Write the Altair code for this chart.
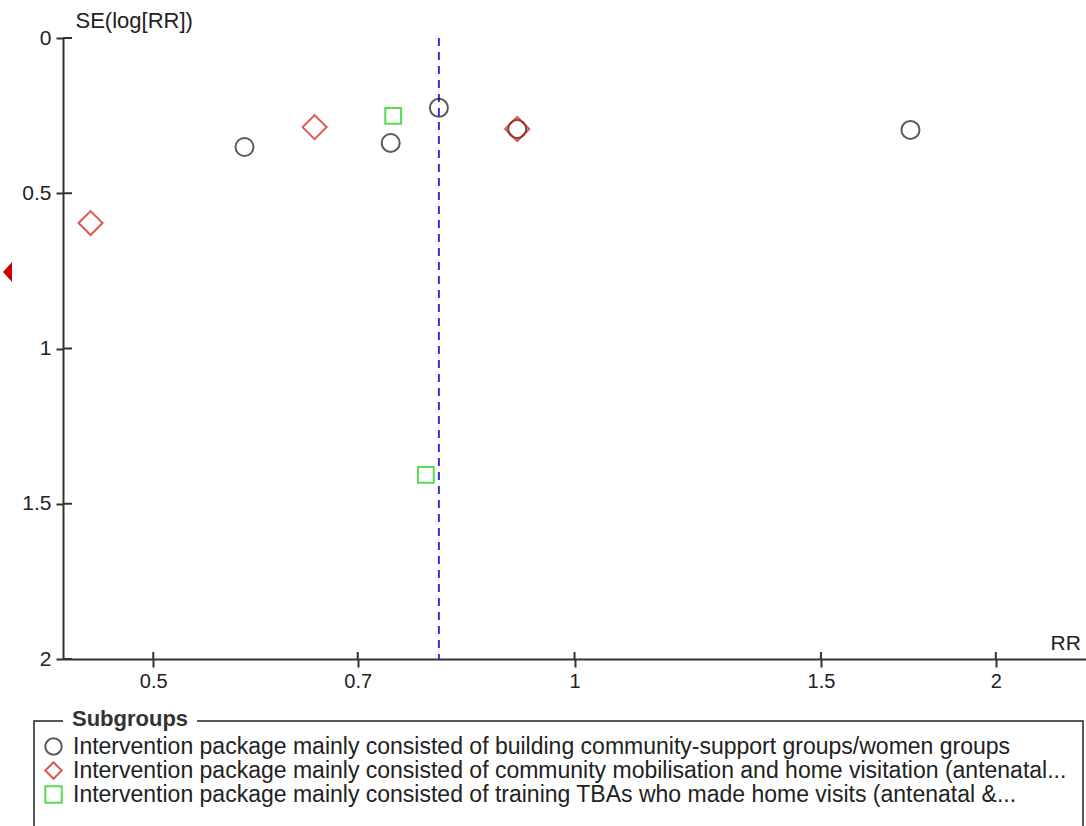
import altair as alt
import pandas as pd

groups = [
    "Intervention package mainly consisted of building community-support groups/women groups",
    "Intervention package mainly consisted of community mobilisation and home visitation (antenatal...",
    "Intervention package mainly consisted of training TBAs who made home visits (antenatal &...",
]
circle_rr = [0.581, 0.739, 0.800, 0.910, 1.738]
circle_se = [0.351, 0.338, 0.225, 0.293, 0.296]
diamond_rr = [0.451, 0.652, 0.910]
diamond_se = [0.596, 0.287, 0.293]
square_rr = [0.742, 0.783]
square_se = [0.251, 1.407]
pooled_rr = 0.80
marker_se = [0.754]
x_ticks = [0.5, 0.7, 1, 1.5, 2]
y_ticks = [0, 0.5, 1, 1.5, 2]

rows = []
for g, rrs, ses in [(groups[0], circle_rr, circle_se), (groups[1], diamond_rr, diamond_se), (groups[2], square_rr, square_se)]:
    for r, s in zip(rrs, ses):
        rows.append({"group": g, "rr": r, "se": s})
df = pd.DataFrame(rows)

FONT = "Liberation Sans"
TXT = "#222222"
xscale = alt.Scale(type="log", domain=[0.431, 2.32], nice=False)
yscale = alt.Scale(domain=[0, 2], reverse=True, nice=False)

xaxis = alt.Axis(values=x_ticks, format="~g", title="RR", titleX=987, titleY=-16,
                 titleAlign="left", titleBaseline="middle", titleFontWeight="normal",
                 titleFontSize=21, titleFont=FONT, titleColor=TXT, grid=False,
                 labelFontSize=20, labelFont=FONT, labelColor=TXT, labelPadding=4,
                 tickSize=8, tickWidth=2, tickColor="#333333", domainColor="#333333",
                 domainWidth=2)
yaxis = alt.Axis(values=y_ticks, format="~g", title="SE(log[RR])", titleX=12, titleY=-18,
                 titleAngle=0, titleAlign="left", titleBaseline="middle",
                 titleFontWeight="normal", titleFontSize=22, titleFont=FONT, titleColor=TXT,
                 grid=False, labelFontSize=21, labelFont=FONT, labelColor=TXT, labelPadding=5,
                 tickSize=7, tickWidth=2, tickColor="#333333", domainColor="#333333",
                 domainWidth=2)

color_enc = alt.Color("group:N", scale=alt.Scale(domain=groups, range=["#151515", "#cc1111", "#11cc11"]),
                      legend=alt.Legend(title=None, orient="none", legendX=-21, legendY=697,
                                        labelFontSize=23, labelFont=FONT, labelColor=TXT,
                                        labelLimit=1200, labelOffset=8, symbolStrokeWidth=2,
                                        symbolSize=270, rowPadding=-1))
shape_enc = alt.Shape("group:N", scale=alt.Scale(domain=groups, range=["circle", "diamond", "square"]))

base = alt.Chart(df).encode(
    x=alt.X("rr:Q", scale=xscale, axis=xaxis),
    y=alt.Y("se:Q", scale=yscale, axis=yaxis),
    color=color_enc,
    shape=shape_enc,
)
pts_c = base.transform_filter(alt.datum.group == groups[0]).mark_point(filled=False, strokeWidth=2, size=324)
pts_d = base.transform_filter(alt.datum.group == groups[1]).mark_point(filled=False, strokeWidth=2, size=576)
pts_s = base.transform_filter(alt.datum.group == groups[2]).mark_point(filled=False, strokeWidth=2, size=250)

dashed = alt.Chart(pd.DataFrame({"rr": [pooled_rr]})).mark_rule(
    color="#3333dd", strokeWidth=2, strokeDash=[8, 6]).encode(
    x=alt.X("rr:Q", scale=xscale), y=alt.value(0), y2=alt.value(621))

yt = alt.Chart(pd.DataFrame({"v": y_ticks})).mark_rule(color="#333333", strokeWidth=2).encode(
    y=alt.Y("v:Q", scale=yscale), x=alt.value(0), x2=alt.value(9))
xt = alt.Chart(pd.DataFrame({"v": x_ticks})).mark_rule(color="#333333", strokeWidth=2).encode(
    x=alt.X("v:Q", scale=xscale), y=alt.value(614), y2=alt.value(621))

tri = alt.Chart(pd.DataFrame({"se": marker_se})).mark_point(
    shape="M0.45,-1L-0.45,0L0.45,1Z", filled=True, color="#cc0000", opacity=1, size=400).encode(
    x=alt.value(-55.5), y=alt.Y("se:Q", scale=yscale))

box = alt.Chart(pd.DataFrame({"a": [1]})).mark_rect(
    fill="white", fillOpacity=0, stroke="#222222", strokeWidth=1.5).encode(
    x=alt.value(-29), x2=alt.value(1020), y=alt.value(683), y2=alt.value(900))
gap = alt.Chart(pd.DataFrame({"a": [1]})).mark_rect(fill="white").encode(
    x=alt.value(0), x2=alt.value(134), y=alt.value(679), y2=alt.value(687))
title = alt.Chart(pd.DataFrame({"t": ["Subgroups"]})).mark_text(
    align="left", baseline="middle", font=FONT, fontSize=22, fontWeight="bold", color="#333333").encode(
    x=alt.value(9), y=alt.value(681), text="t:N")

chart = alt.layer(box, gap, title, dashed, yt, xt, tri, pts_c, pts_d, pts_s).properties(
    width=1023, height=621,
    background="white",
    autosize=alt.AutoSizeParams(type="none"),
    padding={"left": 63, "top": 38, "right": 0, "bottom": 167},
).configure_view(stroke=None)

chart.save("out.html", embed_options={"renderer": "svg", "actions": False})
